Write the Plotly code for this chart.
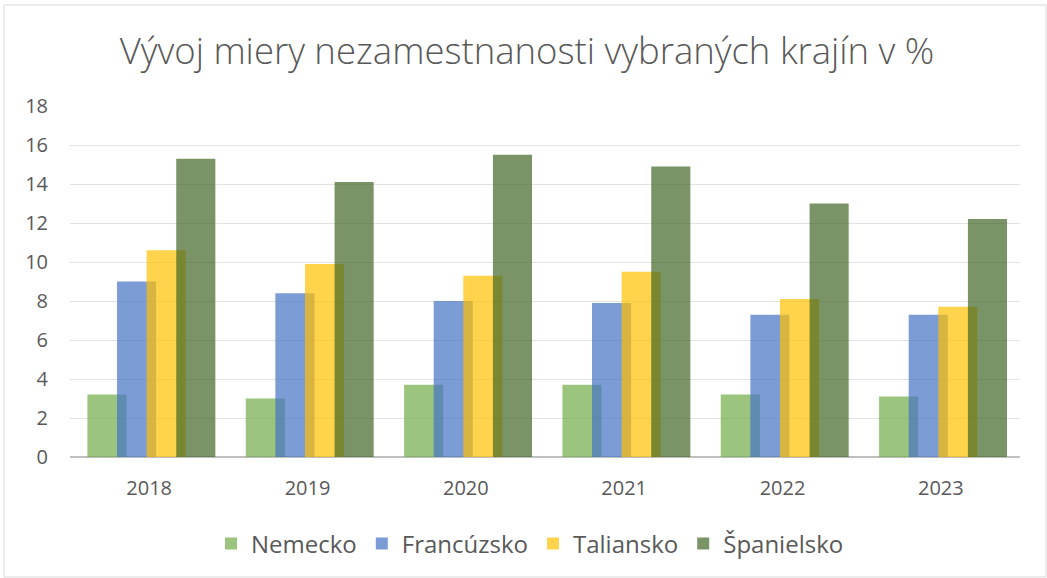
import plotly.graph_objects as go

years = ["2018", "2019", "2020", "2021", "2022", "2023"]
nemecko = [3.2, 3.0, 3.7, 3.7, 3.2, 3.1]
francuzsko = [9.0, 8.4, 8.0, 7.9, 7.3, 7.3]
taliansko = [10.6, 9.9, 9.3, 9.5, 8.1, 7.7]
spanielsko = [15.3, 14.1, 15.5, 14.9, 13.0, 12.2]

series = [
    ("Nemecko", nemecko, "rgba(112,173,71,0.7)"),
    ("Francúzsko", francuzsko, "rgba(68,114,196,0.7)"),
    ("Taliansko", taliansko, "rgba(255,192,0,0.7)"),
    ("Španielsko", spanielsko, "rgba(65,102,39,0.7)"),
]

xpos = list(range(len(years)))
bar_w = 0.247
step = 0.187
start = -0.39

fig = go.Figure()
for i, (name, vals, col) in enumerate(series):
    fig.add_trace(go.Bar(
        name=name, x=xpos, y=vals,
        width=bar_w, offset=start + i * step,
        marker=dict(color=col, line=dict(width=0)),
    ))

W, H = 1047, 578
ml, mr, mt, mb = 70, 27, 106, 121
pw, ph = W - ml - mr, H - mt - mb
font = "Open Sans"

fig.update_layout(
    width=W, height=H,
    barmode="overlay",
    plot_bgcolor="white", paper_bgcolor="white",
    margin=dict(l=ml, r=mr, t=mt, b=mb, autoexpand=False),
    title=dict(
        text="Vývoj miery nezamestnanosti vybraných krajín v %",
        x=527 / W, xanchor="center", xref="container",
        y=1 - 51 / H, yanchor="middle",
        font=dict(family=font, size=36.5, color="#595959", weight=300),
    ),
    xaxis=dict(
        range=[-0.5, 5.5], tickmode="array", tickvals=xpos, ticktext=years,
        showgrid=False, showline=False, zeroline=False, ticks="",
        tickfont=dict(family=font, size=20, color="#595959"),
        ticklabelstandoff=17, automargin=False,
    ),
    yaxis=dict(
        range=[0, 18], dtick=2, showgrid=True, gridcolor="#E3E3E3", gridwidth=1,
        zeroline=True, zerolinecolor="#BFBFBF", zerolinewidth=2,
        showline=False, ticks="",
        tickfont=dict(family=font, size=20, color="#595959"),
        ticklabelstandoff=21, automargin=False,
    ),
    legend=dict(
        orientation="h", x=(530 - ml) / pw, xanchor="center",
        y=-(544 - (mt + ph)) / ph, yanchor="middle",
        font=dict(family=font, size=24, color="#595959"),
        itemsizing="constant", traceorder="normal", itemwidth=30,
    ),
    showlegend=True,
)

# outer chart border (like the Excel chart frame)
fig.add_shape(
    type="rect", xref="paper", yref="paper",
    x0=(4 - ml) / pw, x1=(W - 1 - ml) / pw,
    y0=(mt + ph - (H - 1)) / ph, y1=(mt + ph - 5) / ph,
    line=dict(color="#D9D9D9", width=1), fillcolor="rgba(0,0,0,0)", layer="below",
)

fig.write_html(
    "out.html",
    config={"displayModeBar": False},
    post_script="document.body.style.margin='0';document.body.style.overflow='hidden';",
)
